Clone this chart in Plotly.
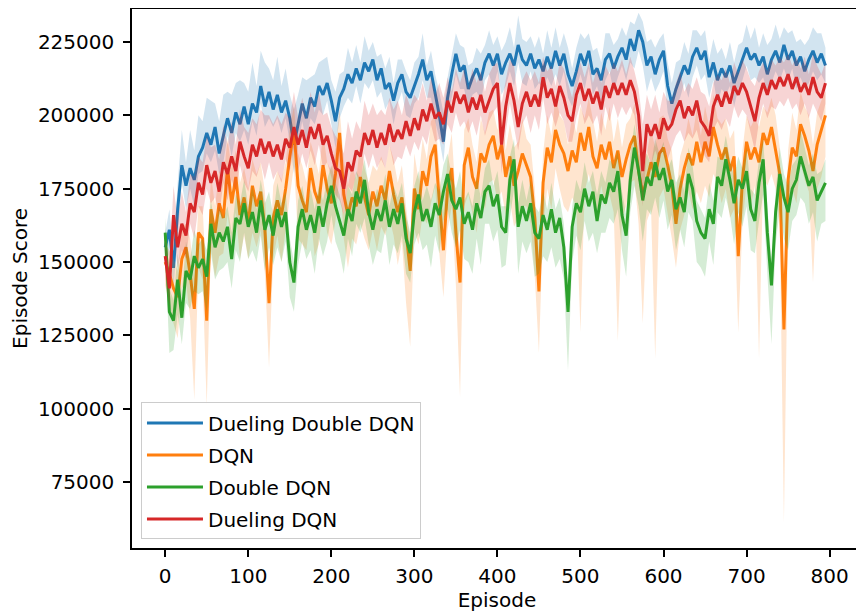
import numpy as np
import plotly.graph_objects as go

# Episode index (every 5th episode)
episodes = [5 * i for i in range(160)]

# Mean episode score (in thousands)
ddqn_duel_mean = [
    155, 161, 148, 168, 183, 176, 182, 178, 186, 189,
    194, 190, 196, 187, 193, 199, 194, 201, 197, 203,
    197, 204, 201, 210, 203, 208, 202, 207, 201, 205,
    199, 190, 197, 204, 199, 206, 203, 210, 207, 211,
    205, 198, 206, 209, 214, 211, 216, 212, 218, 215,
    219, 212, 216, 209, 211, 205, 211, 214, 208, 206,
    210, 214, 219, 212, 215, 208, 200, 191, 206, 214,
    221, 215, 217, 209, 213, 216, 212, 218, 221, 217,
    221, 214, 218, 221, 217, 224, 219, 217, 221, 216,
    219, 215, 220, 216, 222, 217, 221, 214, 210, 215,
    221, 217, 222, 214, 216, 212, 219, 221, 216, 220,
    223, 219, 226, 222, 229, 225, 217, 220, 214, 219,
    222, 210, 204, 209, 213, 217, 214, 220, 223, 219,
    222, 213, 218, 212, 216, 213, 217, 211, 215, 219,
    223, 219, 221, 217, 220, 214, 219, 222, 218, 224,
    219, 222, 217, 220, 215, 219, 222, 218, 221, 217,
]
dqn_mean = [
    150, 146, 141, 138, 151, 155, 146, 134, 160, 158,
    130, 168, 160, 170, 165, 182, 170, 179, 166, 172,
    163, 176, 169, 174, 161, 136, 165, 171, 166, 175,
    186, 195, 176, 171, 167, 182, 174, 170, 183, 175,
    170, 180, 194, 173, 166, 172, 169, 179, 172, 166,
    174, 169, 176, 171, 181, 173, 167, 172, 160, 147,
    175, 168, 181, 176, 186, 190, 171, 154, 175, 182,
    160, 143, 183, 189, 179, 175, 187, 184, 190, 193,
    185, 190, 179, 186, 176, 181, 187, 183, 179, 165,
    140, 177, 189, 184, 195, 190, 187, 181, 188, 184,
    194, 188, 196, 186, 182, 190, 185, 191, 182, 188,
    179, 185, 190, 193, 181, 173, 178, 184, 179, 187,
    189, 183, 176, 163, 175, 182, 187, 183, 191, 184,
    191, 186, 196, 190, 185, 189, 181, 186, 152, 178,
    191, 185, 189, 184, 194, 190, 196, 188, 180, 127,
    178, 189, 186, 197, 193, 188, 181, 190, 195, 200,
]
double_mean = [
    160, 133, 130, 144, 131, 147, 144, 152, 148, 151,
    145, 163, 155, 160, 157, 162, 151, 165, 163, 170,
    162, 167, 160, 171, 161, 166, 159, 168, 162, 167,
    150, 143, 162, 168, 161, 166, 160, 169, 162, 170,
    176, 169, 164, 159, 168, 164, 174, 170, 178, 167,
    161, 168, 164, 171, 162, 168, 163, 170, 158, 153,
    167, 173, 164, 168, 162, 170, 166, 174, 180, 171,
    168, 172, 163, 167, 161, 170, 165, 174, 176, 169,
    173, 162, 160, 178, 185, 162, 169, 164, 170, 160,
    158, 166, 161, 168, 160, 165, 155, 133, 162, 170,
    167, 175, 169, 174, 164, 173, 170, 177, 174, 181,
    166, 159, 178, 189, 181, 171, 179, 176, 184, 178,
    182, 174, 178, 168, 172, 167, 180, 175, 164, 160,
    158, 168, 163, 179, 176, 185, 178, 170, 178, 175,
    181, 168, 164, 177, 185, 160, 142, 167, 180, 172,
    167, 175, 178, 186, 181, 176, 179, 171, 174, 177,
]
dueling_mean = [
    152, 141, 166, 155, 163, 159, 170, 167, 177, 173,
    183, 177, 181, 174, 184, 180, 186, 181, 191, 186,
    182, 190, 186, 192, 187, 191, 186, 190, 185, 192,
    189, 196, 190, 195, 189, 196, 192, 197, 190, 193,
    187, 182, 181, 175, 184, 181, 188, 186, 194, 190,
    195, 189, 194, 190, 197, 191, 195, 192, 198, 193,
    199, 195, 202, 198, 204, 199, 201, 197, 205, 201,
    208, 204, 207, 201, 206, 202, 207, 201, 205, 209,
    211, 190, 203, 211, 205, 196, 204, 208, 203, 207,
    203, 213, 206, 209, 203, 210, 206, 200, 198, 207,
    211, 205, 209, 204, 208, 202, 210, 206, 211, 207,
    211, 207, 212, 208, 200, 181, 197, 193, 197, 192,
    199, 195, 197, 202, 205, 199, 203, 200, 205, 198,
    196, 193, 203, 207, 203, 208, 204, 210, 207, 211,
    208, 203, 198, 206, 211, 207, 212, 209, 213, 210,
    214, 209, 213, 208, 211, 207, 213, 208, 206, 211,
]

# Shaded band: distance below / above the mean (in thousands)
ddqn_duel_below = [
    6, 8, 7, 9, 6, 8, 7, 9, 6, 8,
    7, 6, 8, 7, 9, 6, 8, 7, 6, 8,
    7, 6, 8, 6, 7, 9, 6, 8, 7, 6,
    8, 10, 7, 6, 8, 7, 6, 8, 7, 6,
    8, 9, 7, 6, 8, 7, 6, 8, 7, 6,
    7, 6, 8, 7, 6, 8, 7, 6, 8, 7,
    6, 8, 7, 6, 9, 10, 8, 7, 6, 8,
    7, 6, 8, 7, 6, 8, 7, 6, 7, 8,
    6, 7, 8, 6, 7, 6, 8, 7, 6, 7,
    8, 6, 7, 6, 8, 7, 6, 8, 7, 6,
    7, 8, 6, 7, 6, 8, 7, 6, 8, 7,
    6, 7, 8, 6, 7, 8, 9, 7, 6, 8,
    7, 9, 8, 6, 7, 6, 8, 7, 6, 7,
    8, 7, 6, 8, 7, 6, 7, 8, 6, 7,
    6, 7, 8, 6, 7, 6, 8, 7, 6, 8,
    7, 6, 8, 7, 6, 8, 7, 6, 7, 6,
]
ddqn_duel_above = [
    5, 7, 6, 9, 12, 8, 13, 10, 14, 9,
    12, 15, 8, 11, 14, 9, 13, 10, 15, 8,
    11, 14, 9, 12, 15, 8, 10, 13, 9, 11,
    8, 12, 10, 9, 13, 7, 11, 8, 12, 9,
    7, 10, 8, 6, 9, 7, 8, 6, 9, 7,
    6, 8, 5, 7, 9, 6, 8, 5, 7, 6,
    8, 6, 9, 5, 7, 6, 8, 10, 7, 6,
    7, 9, 6, 8, 5, 7, 9, 6, 8, 7,
    6, 8, 7, 9, 6, 10, 7, 8, 6, 7,
    8, 6, 9, 7, 8, 6, 7, 9, 6, 8,
    7, 9, 6, 8, 7, 6, 9, 7, 8, 6,
    7, 8, 6, 9, 6, 7, 8, 6, 9, 7,
    6, 8, 7, 9, 6, 8, 7, 9, 6, 8,
    7, 6, 8, 9, 7, 6, 8, 7, 9, 6,
    8, 7, 9, 6, 8, 10, 7, 9, 8, 6,
    9, 7, 8, 6, 9, 7, 8, 10, 7, 6,
]
dqn_below = [
    8, 10, 12, 14, 10, 12, 15, 31, 12, 14,
    29, 13, 15, 18, 12, 16, 14, 12, 15, 13,
    12, 16, 14, 13, 15, 22, 14, 12, 16, 13,
    14, 12, 18, 15, 13, 16, 22, 14, 13, 15,
    14, 16, 13, 15, 18, 14, 13, 16, 14, 12,
    13, 15, 14, 12, 16, 14, 18, 15, 24, 26,
    14, 12, 15, 13, 16, 14, 18, 16, 14, 13,
    18, 39, 14, 16, 13, 15, 14, 16, 13, 15,
    14, 16, 13, 15, 14, 16, 18, 14, 16, 20,
    21, 15, 14, 16, 13, 15, 18, 14, 16, 15,
    68, 14, 16, 13, 15, 14, 16, 18, 15, 65,
    14, 16, 13, 15, 18, 44, 14, 16, 62, 15,
    14, 16, 18, 15, 14, 16, 13, 15, 17, 14,
    15, 14, 16, 13, 15, 14, 16, 18, 26, 15,
    14, 16, 13, 67, 15, 14, 16, 13, 18, 66,
    15, 14, 16, 13, 15, 14, 38, 15, 16, 14,
]
dqn_above = [
    6, 8, 10, 9, 11, 8, 12, 10, 9, 11,
    10, 12, 9, 11, 13, 10, 12, 9, 11, 10,
    12, 9, 11, 10, 13, 9, 11, 10, 12, 9,
    10, 8, 11, 12, 10, 9, 12, 10, 11, 9,
    11, 9, 8, 12, 10, 11, 9, 12, 10, 11,
    9, 12, 10, 11, 9, 12, 10, 11, 9, 10,
    12, 10, 11, 9, 12, 10, 11, 13, 10, 12,
    11, 9, 12, 10, 11, 9, 12, 10, 11, 9,
    10, 12, 9, 11, 13, 10, 12, 9, 11, 10,
    12, 10, 11, 9, 12, 10, 11, 9, 12, 10,
    9, 11, 10, 12, 9, 11, 10, 12, 9, 11,
    10, 12, 9, 11, 10, 12, 9, 11, 10, 12,
    11, 9, 12, 10, 11, 9, 12, 10, 11, 9,
    12, 10, 11, 9, 12, 10, 11, 9, 12, 10,
    9, 11, 10, 12, 9, 11, 10, 12, 9, 11,
    10, 12, 9, 11, 10, 12, 9, 11, 10, 8,
]
double_below = [
    6, 14, 10, 12, 9, 11, 10, 12, 9, 11,
    12, 10, 11, 13, 9, 12, 10, 11, 13, 10,
    11, 13, 10, 12, 14, 11, 10, 13, 12, 10,
    12, 10, 13, 11, 10, 12, 14, 11, 10, 13,
    10, 12, 11, 13, 10, 12, 11, 10, 13, 11,
    12, 14, 11, 10, 13, 12, 10, 11, 12, 10,
    11, 13, 10, 12, 14, 11, 13, 10, 12, 11,
    13, 11, 12, 17, 15, 12, 16, 11, 13, 12,
    12, 14, 11, 13, 10, 16, 12, 11, 13, 15,
    12, 14, 11, 13, 12, 14, 11, 20, 12, 11,
    13, 11, 12, 14, 11, 13, 10, 12, 11, 13,
    12, 14, 11, 13, 12, 14, 11, 10, 12, 13,
    11, 13, 12, 14, 11, 12, 13, 11, 14, 12,
    13, 11, 14, 12, 11, 13, 12, 14, 11, 13,
    12, 14, 11, 13, 12, 14, 20, 11, 12, 14,
    13, 11, 12, 14, 11, 13, 12, 14, 11, 13,
]
double_above = [
    5, 8, 7, 9, 8, 10, 7, 9, 8, 7,
    9, 8, 7, 9, 8, 7, 9, 8, 7, 8,
    7, 9, 8, 7, 9, 8, 7, 9, 8, 7,
    8, 7, 9, 8, 7, 9, 8, 7, 9, 8,
    7, 8, 9, 7, 8, 9, 7, 8, 7, 9,
    8, 7, 8, 9, 7, 8, 9, 7, 8, 7,
    9, 8, 7, 8, 9, 7, 8, 9, 7, 8,
    7, 9, 8, 7, 8, 9, 7, 8, 9, 7,
    8, 7, 9, 8, 7, 8, 9, 7, 8, 9,
    9, 8, 7, 9, 8, 7, 8, 9, 7, 8,
    7, 9, 8, 7, 9, 8, 7, 8, 9, 7,
    8, 7, 9, 8, 7, 9, 8, 7, 8, 9,
    9, 8, 7, 9, 8, 7, 9, 8, 7, 8,
    7, 9, 8, 7, 9, 8, 7, 9, 8, 7,
    8, 7, 9, 8, 7, 9, 8, 7, 9, 8,
    9, 8, 7, 9, 8, 7, 8, 9, 7, 8,
]
dueling_below = [
    7, 6, 8, 7, 9, 8, 7, 9, 8, 7,
    8, 7, 9, 8, 7, 9, 8, 7, 8, 9,
    8, 9, 7, 8, 9, 7, 8, 9, 8, 7,
    8, 7, 9, 8, 7, 8, 9, 7, 8, 9,
    8, 9, 10, 9, 8, 7, 8, 9, 7, 8,
    8, 7, 9, 8, 7, 8, 9, 7, 8, 7,
    8, 7, 9, 8, 7, 8, 9, 7, 8, 7,
    7, 8, 9, 7, 8, 9, 7, 8, 7, 8,
    8, 10, 9, 7, 9, 8, 7, 8, 9, 7,
    8, 7, 9, 8, 7, 9, 8, 9, 7, 8,
    7, 8, 9, 7, 8, 9, 7, 8, 7, 8,
    8, 7, 9, 8, 12, 12, 9, 10, 9, 8,
    9, 10, 8, 9, 10, 8, 9, 8, 10, 9,
    10, 9, 8, 9, 8, 9, 8, 7, 8, 9,
    8, 9, 10, 8, 7, 8, 9, 7, 8, 7,
    8, 7, 9, 8, 7, 8, 9, 7, 8, 7,
]
dueling_above = [
    6, 8, 10, 9, 11, 8, 10, 12, 9, 11,
    10, 12, 9, 11, 13, 10, 12, 9, 11, 10,
    12, 9, 11, 10, 13, 9, 11, 10, 12, 9,
    10, 12, 9, 11, 10, 12, 9, 11, 10, 8,
    9, 11, 10, 12, 14, 11, 10, 9, 11, 10,
    9, 11, 8, 10, 9, 11, 10, 8, 9, 10,
    8, 10, 9, 7, 9, 8, 10, 9, 8, 7,
    8, 7, 9, 8, 10, 9, 8, 7, 9, 8,
    7, 14, 9, 8, 12, 9, 8, 7, 9, 8,
    8, 7, 9, 8, 7, 8, 10, 11, 8, 7,
    7, 8, 9, 7, 8, 9, 7, 8, 7, 8,
    8, 7, 8, 7, 9, 16, 10, 9, 10, 9,
    9, 10, 8, 9, 10, 9, 8, 9, 8, 10,
    11, 10, 8, 7, 9, 8, 7, 8, 7, 8,
    8, 9, 12, 9, 7, 8, 7, 8, 7, 8,
    7, 8, 7, 8, 9, 7, 8, 9, 8, 7,
]

series_names = ["Dueling Double DQN", "DQN", "Double DQN", "Dueling DQN"]
series_colors = ["#1f77b4", "#ff7f0e", "#2ca02c", "#d62728"]
band_colors = ["rgba(31,119,180,0.2)", "rgba(255,127,14,0.2)",
               "rgba(44,160,44,0.2)", "rgba(214,39,40,0.2)"]
means = [ddqn_duel_mean, dqn_mean, double_mean, dueling_mean]
belows = [ddqn_duel_below, dqn_below, double_below, dueling_below]
aboves = [ddqn_duel_above, dqn_above, double_above, dueling_above]

y_ticks = [75000, 100000, 125000, 150000, 175000, 200000, 225000]
x_ticks = [0, 100, 200, 300, 400, 500, 600, 700, 800]

fig = go.Figure()
for name, m, b, a, c, bc in zip(series_names, means, belows, aboves,
                                series_colors, band_colors):
    assert len(m) == len(b) == len(a) == len(episodes), name
    m = np.array(m, dtype=float) * 1000
    lo = m - np.array(b, dtype=float) * 1000
    hi = m + np.array(a, dtype=float) * 1000
    fig.add_trace(go.Scatter(
        x=episodes + episodes[::-1],
        y=list(hi) + list(lo[::-1]),
        fill="toself", fillcolor=bc, line=dict(width=0),
        mode="lines", showlegend=False, hoverinfo="skip", legendgroup=name))
    fig.add_trace(go.Scatter(
        x=episodes, y=m, mode="lines", name=name, legendgroup=name,
        line=dict(color=c, width=3)))

axis_common = dict(showgrid=False, zeroline=False, showline=True,
                   linecolor="black", linewidth=1.5, mirror=True,
                   ticks="outside", ticklen=7, tickwidth=1.5,
                   tickcolor="black", automargin=False)
title_font = dict(family="DejaVu Sans", size=20, color="black")

# The page body adds an 8px offset, so the figure is sized 856x608.
fig.update_layout(
    width=856, height=608,
    margin=dict(l=124, r=2, t=1, b=68),
    plot_bgcolor="white", paper_bgcolor="white",
    font=dict(family="DejaVu Sans", size=20, color="black"),
    showlegend=True,
    legend=dict(x=0.0123, y=0.016, xanchor="left", yanchor="bottom",
                bgcolor="rgba(255,255,255,0.8)", bordercolor="#cccccc",
                borderwidth=1, traceorder="grouped", tracegroupgap=3,
                itemwidth=56,
                font=dict(family="DejaVu Sans", size=20, color="black")),
    xaxis=dict(range=[-40, 839], tickvals=x_ticks, ticklabelstandoff=2,
               title=dict(text="Episode", standoff=6, font=title_font),
               **axis_common),
    yaxis=dict(range=[52500, 236250], tickvals=y_ticks,
               ticktext=[str(v) for v in y_ticks], ticklabelstandoff=5,
               title=dict(text="Episode Score", standoff=9, font=title_font),
               **axis_common),
)

fig.write_html("out.html")
